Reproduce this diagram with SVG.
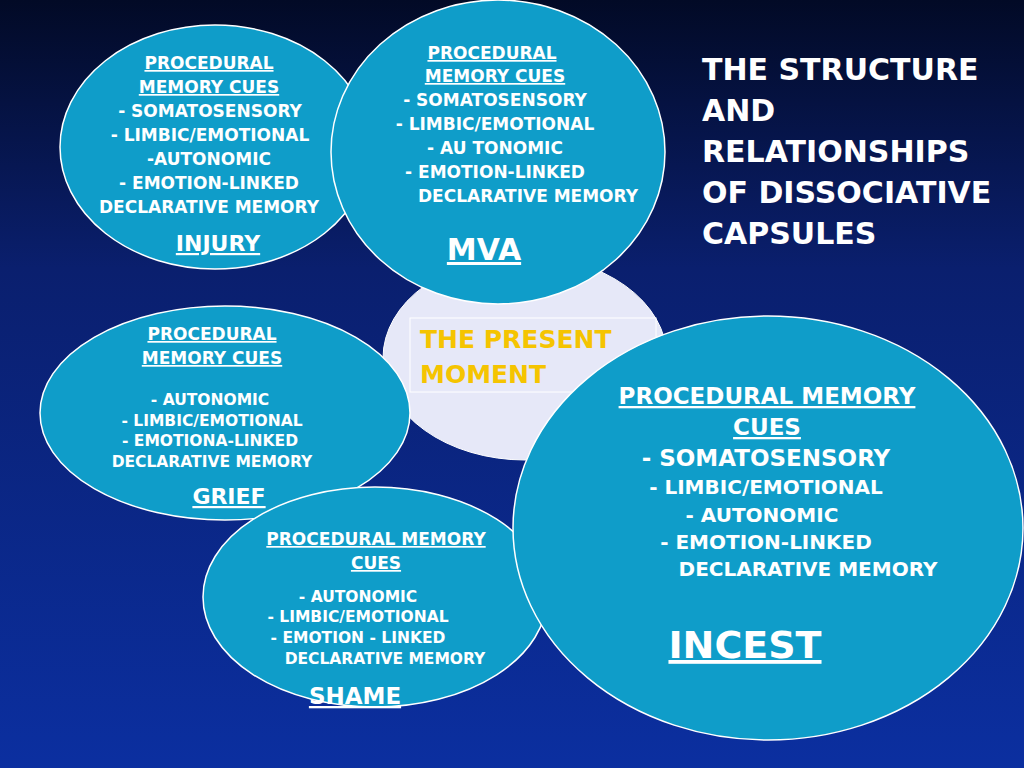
<svg xmlns="http://www.w3.org/2000/svg" width="1024" height="768" viewBox="0 0 1024 768">
<defs>
<linearGradient id="bg" x1="0" y1="0" x2="0" y2="1">
<stop offset="0" stop-color="#020a26"/><stop offset="0.35" stop-color="#0a1f6e"/><stop offset="1" stop-color="#0b2fa0"/>
</linearGradient>
</defs>
<style>
.cap{fill:#0f9dc9;stroke:#ffffff;stroke-width:1.5}
text{font-family:"DejaVu Sans","Liberation Sans",sans-serif;font-weight:bold;fill:#ffffff;text-anchor:middle}
.u{text-decoration:underline}
.s{font-size:17px}
.m{font-size:15.5px}
</style>
<rect width="1024" height="768" fill="url(#bg)"/>
<g id="present">
<ellipse cx="525" cy="358" rx="142" ry="102" fill="#e6e8f8" stroke="#ffffff"/>
<rect x="410" y="318" width="246" height="74" fill="none" stroke="#ffffff" stroke-width="1"/>
<text x="420" y="348" style="text-anchor:start;font-size:25px;fill:#f5c400">THE PRESENT</text>
<text x="420" y="383" style="text-anchor:start;font-size:25px;fill:#f5c400">MOMENT</text>
</g>
<g id="injury">
<ellipse class="cap" cx="215" cy="147" rx="155" ry="122"/>
<text class="s u" x="209" y="69">PROCEDURAL</text>
<text class="s u" x="209" y="93">MEMORY CUES</text>
<text class="s" x="210" y="117">-   SOMATOSENSORY</text>
<text class="s" x="210" y="141">-   LIMBIC/EMOTIONAL</text>
<text class="s" x="209" y="165">-AUTONOMIC</text>
<text class="s" x="209" y="189">- EMOTION-LINKED</text>
<text class="s" x="209" y="213">DECLARATIVE MEMORY</text>
<text class="u" x="218" y="251" style="font-size:22px">INJURY</text>
</g>
<g id="mva">
<ellipse class="cap" cx="498" cy="152" rx="167" ry="152"/>
<text class="s u" x="492" y="59">PROCEDURAL </text>
<text class="s u" x="495" y="82">MEMORY CUES</text>
<text class="s" x="495" y="106">- SOMATOSENSORY</text>
<text class="s" x="495" y="130">- LIMBIC/EMOTIONAL</text>
<text class="s" x="495" y="154">- AU TONOMIC</text>
<text class="s" x="495" y="178">- EMOTION-LINKED</text>
<text class="s" x="528" y="202">DECLARATIVE MEMORY</text>
<text class="u" x="484" y="260" style="font-size:30px">MVA</text>
</g>
<g id="grief">
<ellipse class="cap" cx="225" cy="413" rx="185" ry="107"/>
<text class="s u" x="212" y="340">PROCEDURAL</text>
<text class="s u" x="212" y="364">MEMORY CUES</text>
<text class="m" x="210" y="405">-   AUTONOMIC</text>
<text class="m" x="212" y="426">-   LIMBIC/EMOTIONAL</text>
<text class="m" x="210" y="446">-   EMOTIONA-LINKED</text>
<text class="m" x="212" y="467">DECLARATIVE MEMORY</text>
<text class="u" x="229" y="504" style="font-size:22px">GRIEF</text>
</g>
<g id="shame">
<ellipse class="cap" cx="375" cy="597" rx="172" ry="110"/>
<text class="s u" x="376" y="545">PROCEDURAL MEMORY</text>
<text class="s u" x="376" y="569">CUES</text>
<text class="m" x="358" y="602">- AUTONOMIC</text>
<text class="m" x="358" y="622">- LIMBIC/EMOTIONAL</text>
<text class="m" x="358" y="643">- EMOTION - LINKED</text>
<text class="m" x="385" y="664">DECLARATIVE MEMORY</text>
<text class="u" x="355" y="704" style="font-size:23px">SHAME</text>
</g>
<g id="incest">
<ellipse class="cap" cx="768" cy="528" rx="255" ry="212"/>
<text class="u" x="767" y="404" style="font-size:23px">PROCEDURAL MEMORY</text>
<text class="u" x="767" y="435" style="font-size:23px">CUES</text>
<text x="766" y="466" style="font-size:23px">- SOMATOSENSORY</text>
<text x="766" y="494" style="font-size:20px">-   LIMBIC/EMOTIONAL</text>
<text x="762" y="522" style="font-size:20px">-   AUTONOMIC</text>
<text x="766" y="549" style="font-size:20px">- EMOTION-LINKED</text>
<text x="808" y="576" style="font-size:20px">DECLARATIVE MEMORY</text>
<text class="u" x="745" y="658" style="font-size:38px">INCEST</text>
</g>
<g id="title">
<text x="702" y="80" style="text-anchor:start;font-size:30px">THE STRUCTURE</text>
<text x="702" y="121" style="text-anchor:start;font-size:30px">AND</text>
<text x="702" y="162" style="text-anchor:start;font-size:30px">RELATIONSHIPS</text>
<text x="702" y="203" style="text-anchor:start;font-size:30px">OF DISSOCIATIVE</text>
<text x="702" y="244" style="text-anchor:start;font-size:30px">CAPSULES</text>
</g>
<g id="connectors"></g>
</svg>
